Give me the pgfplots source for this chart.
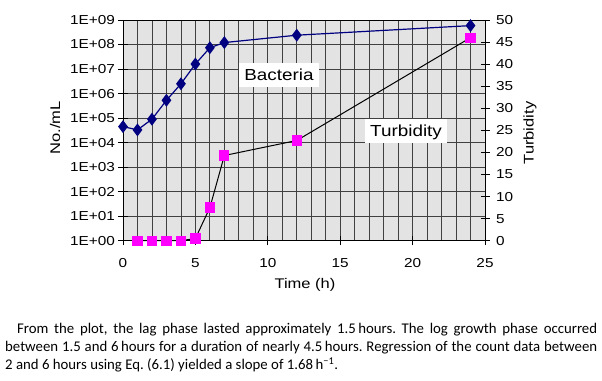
\documentclass[border=0pt]{standalone}
\usepackage{pgfplots}
\pgfplotsset{compat=1.18}
\usepackage{fontspec}
\setmainfont{Liberation Sans}
\newfontfamily\chartfont[FakeStretch=1.18]{Liberation Sans}
\newfontfamily\capfont{Carlito}
\definecolor{navyb}{HTML}{000080}
\definecolor{pinkt}{HTML}{FF00FF}
\definecolor{plotbg}{HTML}{E3E3E3}
\definecolor{gridc}{HTML}{404040}
\frenchspacing
\begin{document}
\begin{tikzpicture}[x=1pt,y=1pt]
\useasboundingbox (0,0) rectangle (602,380);
\begin{axis}[
  at={(123pt,139.3pt)}, anchor=south west,
  scale only axis, width=362pt, height=220.7pt,
  xmin=0, xmax=25, ymode=log, ymin=1, ymax=1e9,
  clip=false,
  axis background/.style={fill=plotbg},
  xtick={0,5,10,15,20,25}, xticklabels={0,5,10,15,20,25},
  minor x tick num=4,
  ytick={1,10,100,1000,10000,100000,1000000,10000000,100000000,1000000000},
  yticklabels={1E+00,1E+01,1E+02,1E+03,1E+04,1E+05,1E+06,1E+07,1E+08,1E+09},
  yminorticks=false,
  xmajorgrids, xminorgrids, ymajorgrids,
  grid style={gridc, line width=0.8pt},
  minor grid style={gridc, line width=0.8pt},
  minor tick length=0pt,
  major tick length=9pt, tick align=center,
  tick style={black, line width=0.7pt},
  xtick pos=left, ytick pos=left,
  axis line style={black, line width=0.8pt},
  tick label style={font=\chartfont\fontsize{13}{15}\selectfont},
  xticklabel style={yshift=-10pt},
]
\addplot[navyb, line width=1.2pt, mark=diamond*, mark size=5.5pt,
  mark options={fill=navyb, draw=navyb, solid}]
  coordinates {(0,4.5e4)(1,3.3e4)(2,9e4)(3,5.3e5)(4,2.5e6)(5,1.6e7)(6,7.4e7)(7,1.2e8)(12,2.4e8)(24,5.9e8)};
\node[fill=white, font=\chartfont\fontsize{16}{18}\selectfont, inner xsep=5pt,
  text height=12pt, text depth=0.5pt, inner ysep=6pt] at (rel axis cs:0.431,0.751) {Bacteria};
\node[fill=white, font=\chartfont\fontsize{16}{18}\selectfont, inner xsep=5pt,
  text height=12pt, text depth=0.5pt, inner ysep=6pt] at (rel axis cs:0.782,0.497) {Turbidity};
\end{axis}
\begin{axis}[
  at={(123pt,139.3pt)}, anchor=south west,
  scale only axis, width=362pt, height=220.7pt,
  xmin=0, xmax=25, ymin=0, ymax=50,
  clip=false,
  axis x line=none, axis y line*=right,
  ytick={0,5,10,15,20,25,30,35,40,45,50},
  yticklabels={0,5,10,15,20,25,30,35,40,45,50},
  major tick length=9pt, tick align=center,
  tick style={black, line width=0.7pt},
  axis line style={black, line width=0.8pt},
  tick label style={font=\chartfont\fontsize{13}{15}\selectfont},
  yticklabel style={xshift=3pt},
]
\addplot[black, line width=1pt, mark=square*, mark size=4.6pt,
  mark options={fill=pinkt, draw=pinkt, solid}]
  coordinates {(1,0)(2,0)(3,0)(4,0)(5,0.5)(6,7.5)(7,19.3)(12,22.7)(24,46)};
\end{axis}
\node[rotate=90, font=\chartfont\fontsize{14}{16}\selectfont] at (55,252) {No./mL};
\node[rotate=90, font=\chartfont\fontsize{14}{16}\selectfont] at (530,247) {Turbidity};
\node[font=\chartfont\fontsize{14}{16}\selectfont] at (305,95) {Time (h)};
\node[anchor=base west, inner sep=0pt, font=\capfont\fontsize{14.8}{17}\selectfont] at (17,46)
  {\makebox[580pt][s]{From the plot, the lag phase lasted approximately 1.5\,hours. The log growth phase occurred}};
\node[anchor=base west, inner sep=0pt, font=\capfont\fontsize{14.8}{17}\selectfont] at (5,28)
  {\makebox[592pt][s]{between 1.5 and 6\,hours for a duration of nearly 4.5\,hours. Regression of the count data between}};
\node[anchor=base west, inner sep=0pt, font=\capfont\fontsize{14.8}{17}\selectfont] at (5,10)
  {2 and 6 hours using Eq. (6.1) yielded a slope of 1.68\,h\textsuperscript{−1}.};
\end{tikzpicture}
\end{document}
